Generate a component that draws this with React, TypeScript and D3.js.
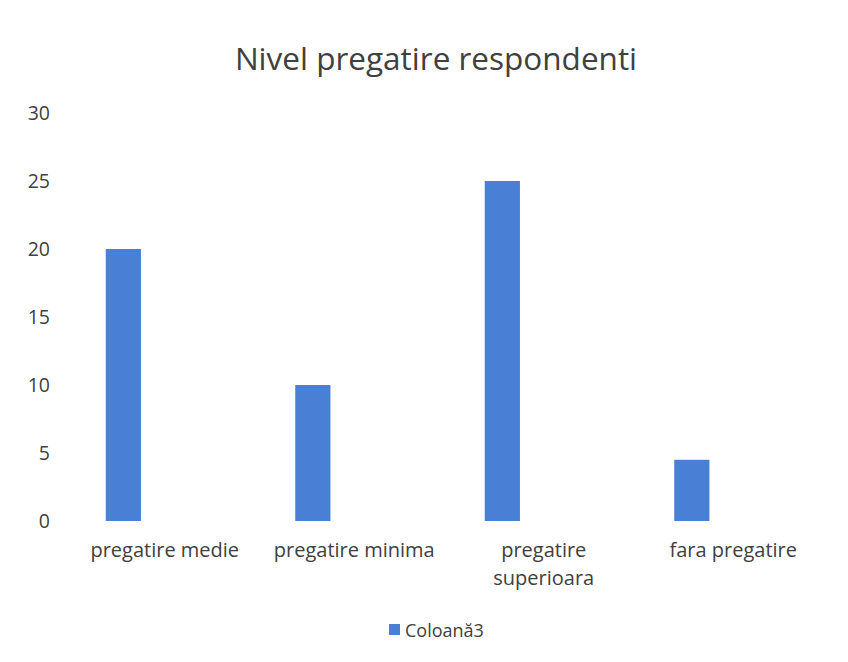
import React from "react";
import * as d3 from "d3";

const categories: string[][] = [
  ["pregatire medie"],
  ["pregatire minima"],
  ["pregatire", "superioara"],
  ["fara pregatire"],
];
const values: number[] = [20, 10, 25, 4.5];
const yTicks: number[] = [0, 5, 10, 15, 20, 25, 30];
const seriesName = "Coloană3";
// cluster slots (Excel clustered layout; only the first slot holds data)
const seriesSlots: string[] = ["Coloană3", "slot2", "slot3"];
const title = "Nivel pregatire respondenti";

export default function App() {
  const W = 848, H = 662;
  const font = "'Open Sans', sans-serif";
  const x0 = d3.scaleBand<number>().domain(d3.range(values.length)).range([70, 828]).padding(0);
  const x1 = d3.scaleBand<string>().domain(seriesSlots).range([-59, 62]).paddingInner(0.18);
  const y = d3.scaleLinear().domain([0, 30]).range([521, 113]);
  const cx = (i: number) => (x0(i) as number) + x0.bandwidth() / 2;
  return (
    <svg width={W} height={H} style={{ position: "absolute", left: 0, top: 0, background: "#fff" }}>
      <text x={436} y={70} textAnchor="middle" fontFamily={font} fontSize={31.5} fill="#404040">{title}</text>
      {yTicks.map((t) => (
        <text key={t} x={50} y={y(t) + 7} textAnchor="end" fontFamily={font} fontSize={19.5} fill="#404040">{t}</text>
      ))}
      {values.map((v, i) => (
        <rect key={i} x={cx(i) + (x1(seriesName) as number)} y={y(v)} width={x1.bandwidth()} height={y(0) - y(v)} fill="#4a7fd6" />
      ))}
      {categories.map((lines, i) => (
        <text key={i} textAnchor="middle" fontFamily={font} fontSize={20} fill="#404040">
          {lines.map((l, j) => (
            <tspan key={j} x={cx(i)} y={557 + j * 28}>{l}</tspan>
          ))}
        </text>
      ))}
      <rect x={389} y={624} width={11} height={11} fill="#4a7fd6" />
      <text x={405} y={637} fontFamily={font} fontSize={18} fill="#404040">{seriesName}</text>
    </svg>
  );
}
